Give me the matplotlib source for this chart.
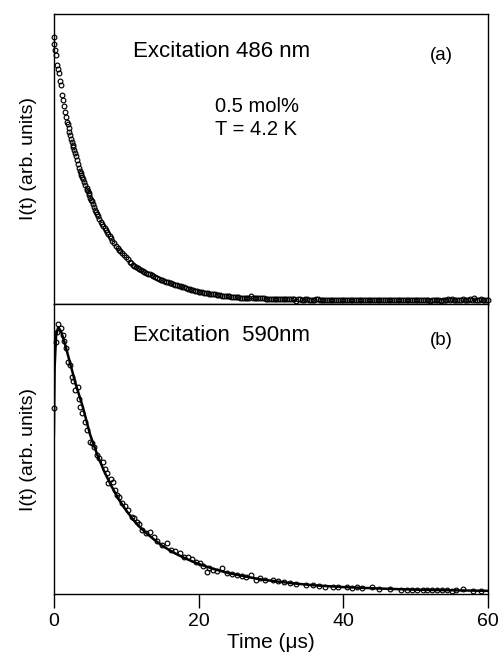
import matplotlib
matplotlib.use("Agg")
import matplotlib.pyplot as plt

plt.rcParams['font.family'] = ['Liberation Sans', 'DejaVu Sans']

# (a) excitation 486 nm: decay
t_a = [0.00, 0.04, 0.15, 0.28, 0.41, 0.53, 0.65, 0.83, 0.97, 1.06, 1.20, 1.35, 1.52, 1.64,
       1.76, 1.90, 2.03, 2.12, 2.21, 2.35, 2.49, 2.60, 2.70, 2.80, 2.90, 3.04, 3.18, 3.35,
       3.50, 3.60, 3.70, 3.80, 3.87, 4.03, 4.19, 4.35, 4.52, 4.61, 4.70, 4.79, 4.88, 5.05,
       5.15, 5.26, 5.42, 5.60, 5.72, 5.81, 5.95, 6.10, 6.30, 6.50, 6.65, 6.80, 7.00, 7.19,
       7.35, 7.50, 7.70, 7.88, 8.10, 8.30, 8.55, 8.81, 9.00, 9.20, 9.45, 9.72, 9.95, 10.20,
       10.45, 10.65, 10.90, 11.10, 11.35, 11.58, 11.80, 12.00, 12.25, 12.49, 12.75,
       13.00, 13.25, 13.50, 13.75, 14.00, 14.25, 14.50, 14.75, 15.00, 15.25, 15.50, 15.75,
       16.00, 16.25, 16.50, 16.75, 17.00, 17.25, 17.50, 17.75, 18.00, 18.25, 18.50, 18.75,
       19.00, 19.25, 19.50, 19.75, 20.00, 20.25, 20.50, 20.75, 21.00, 21.25, 21.50, 21.75,
       22.00, 22.25, 22.50, 22.75, 23.00, 23.25, 23.50, 23.75, 24.00, 24.25, 24.50, 24.75,
       25.00, 25.25, 25.50, 25.75, 26.00, 26.25, 26.50, 26.75, 27.00, 27.25, 27.50, 27.75,
       28.00, 28.25, 28.50, 28.75, 29.00, 29.25, 29.50, 29.75, 30.00, 30.25, 30.50, 30.75]
i_a = [0.922, 0.896, 0.875, 0.859, 0.824, 0.810, 0.798, 0.769, 0.755, 0.722, 0.702, 0.682,
       0.661, 0.643, 0.627, 0.619, 0.608, 0.594, 0.583, 0.570, 0.558, 0.549, 0.540, 0.530,
       0.522, 0.510, 0.497, 0.482, 0.468, 0.460, 0.452, 0.444, 0.439, 0.430, 0.422, 0.410,
       0.399, 0.393, 0.388, 0.382, 0.376, 0.366, 0.360, 0.355, 0.346, 0.335, 0.325, 0.318,
       0.310, 0.302, 0.293, 0.284, 0.277, 0.270, 0.262, 0.255, 0.248, 0.242, 0.234, 0.227,
       0.218, 0.210, 0.200, 0.192, 0.186, 0.181, 0.175, 0.169, 0.161, 0.154, 0.146, 0.140,
       0.136, 0.132, 0.127, 0.123, 0.120, 0.117, 0.114, 0.111, 0.107,
       0.104, 0.102, 0.099, 0.095, 0.092, 0.089, 0.087, 0.084, 0.081, 0.079, 0.077, 0.075,
       0.073, 0.071, 0.069, 0.066, 0.064, 0.062, 0.061, 0.058, 0.057, 0.055, 0.052, 0.050,
       0.048, 0.047, 0.046, 0.045, 0.043, 0.042, 0.040, 0.039, 0.038, 0.037, 0.036, 0.035,
       0.034, 0.033, 0.032, 0.031, 0.030, 0.029, 0.028, 0.027, 0.026, 0.026, 0.025, 0.024,
       0.024, 0.023, 0.023, 0.022, 0.022, 0.022, 0.021, 0.021, 0.021, 0.028, 0.020, 0.020,
       0.020, 0.019, 0.019, 0.019, 0.019, 0.018, 0.018, 0.018, 0.018, 0.017, 0.017, 0.017]

# (a) flat tail
t_a_tail = [31.00, 31.25, 31.50, 31.75, 32.00, 32.25, 32.50, 32.75, 33.00, 33.25, 33.50, 33.75,
            34.00, 34.25, 34.50, 34.75, 35.00, 35.25, 35.50, 35.75, 36.00, 36.25, 36.50, 36.75,
            37.00, 37.25, 37.50, 37.75, 38.00, 38.25, 38.50, 38.75, 39.00, 39.25, 39.50, 39.75,
            40.00, 40.25, 40.50, 40.75, 41.00, 41.25, 41.50, 41.75, 42.00, 42.25, 42.50, 42.75,
            43.00, 43.25, 43.50, 43.75, 44.00, 44.25, 44.50, 44.75, 45.00, 45.25, 45.50, 45.75,
            46.00, 46.25, 46.50, 46.75, 47.00, 47.25, 47.50, 47.75, 48.00, 48.25, 48.50, 48.75,
            49.00, 49.25, 49.50, 49.75, 50.00, 50.25, 50.50, 50.75, 51.00, 51.25, 51.50, 51.75,
            52.00, 52.25, 52.50, 52.75, 53.00, 53.25, 53.50, 53.75, 54.00, 54.25, 54.50, 54.75,
            55.00, 55.25, 55.50, 55.75, 56.00, 56.25, 56.50, 56.75, 57.00, 57.25, 57.50, 57.75,
            58.00, 58.25, 58.50, 58.75, 59.00, 59.25, 59.50, 59.75, 60.00]
i_a_tail = [0.017, 0.017, 0.017, 0.016, 0.016, 0.016, 0.016, 0.016, 0.016, 0.016, 0.010, 0.016,
            0.016, 0.015, 0.015, 0.016, 0.016, 0.015, 0.015, 0.015, 0.015, 0.016, 0.016, 0.015,
            0.015, 0.015, 0.015, 0.015, 0.015, 0.015, 0.014, 0.015, 0.015, 0.015, 0.015, 0.015,
            0.015, 0.014, 0.014, 0.015, 0.015, 0.015, 0.015, 0.015, 0.014, 0.014, 0.015, 0.015,
            0.015, 0.015, 0.014, 0.015, 0.015, 0.015, 0.015, 0.015, 0.014, 0.014, 0.015, 0.015,
            0.014, 0.014, 0.015, 0.015, 0.014, 0.014, 0.015, 0.015, 0.014, 0.014, 0.014, 0.015,
            0.015, 0.015, 0.014, 0.014, 0.014, 0.014, 0.015, 0.015, 0.014, 0.014, 0.014, 0.014,
            0.011, 0.014, 0.014, 0.014, 0.015, 0.015, 0.012, 0.014, 0.015, 0.015, 0.016, 0.015,
            0.018, 0.015, 0.014, 0.014, 0.013, 0.014, 0.016, 0.015, 0.014, 0.015, 0.017, 0.015,
            0.019, 0.015, 0.014, 0.015, 0.016, 0.015, 0.015, 0.015, 0.015]

# (b) excitation 590 nm: data points
t_b = [0.00, 0.23, 0.40, 0.60, 0.92, 1.20, 1.45, 1.66, 1.98, 2.20, 2.45, 2.70, 2.90, 3.27,
       3.45, 3.60, 3.95, 4.28, 4.60, 4.98, 5.25, 5.53, 5.90, 6.30, 6.82, 7.05, 7.28, 7.50,
       7.85, 8.20, 8.45, 8.67, 9.00, 9.36, 9.80, 10.27, 10.74, 11.10, 11.43, 11.80, 12.12,
       12.70, 13.27, 13.80, 14.30, 14.90, 15.60, 16.20, 16.80, 17.40, 18.00, 18.57, 19.10,
       19.70, 20.20, 20.60, 21.10, 21.50, 22.00, 22.60, 23.20, 23.90, 24.60, 25.30, 26.00,
       26.60, 27.30, 28.00, 28.50, 29.20, 30.30, 31.00, 31.80, 32.60, 33.50, 34.90, 35.80,
       36.60, 37.50, 38.60, 39.30, 40.50, 41.20, 41.90, 42.60, 43.90, 45.00, 46.50, 48.00,
       48.80, 49.50, 50.20, 51.00, 51.50, 52.20, 53.00, 53.60, 54.30, 55.00, 55.60, 56.60,
       57.90, 59.00]
i_b = [0.640, 0.870, 0.905, 0.931, 0.916, 0.893, 0.872, 0.847, 0.801, 0.790, 0.749, 0.735,
       0.703, 0.714, 0.672, 0.646, 0.625, 0.594, 0.565, 0.525, 0.520, 0.508, 0.479, 0.470,
       0.456, 0.430, 0.416, 0.382, 0.395, 0.387, 0.360, 0.341, 0.335, 0.313, 0.305, 0.290,
       0.267, 0.262, 0.249, 0.240, 0.221, 0.212, 0.215, 0.195, 0.182, 0.169, 0.175, 0.152,
       0.150, 0.140, 0.128, 0.129, 0.120, 0.111, 0.106, 0.098, 0.077, 0.090, 0.083, 0.081,
       0.089, 0.071, 0.070, 0.066, 0.062, 0.060, 0.066, 0.048, 0.054, 0.050, 0.048, 0.044,
       0.042, 0.037, 0.035, 0.031, 0.030, 0.028, 0.026, 0.023, 0.024, 0.023, 0.022, 0.025,
       0.020, 0.023, 0.018, 0.017, 0.015, 0.014, 0.015, 0.014, 0.013, 0.014, 0.013, 0.014,
       0.013, 0.014, 0.012, 0.013, 0.016, 0.012, 0.011]

# (b) fitted curve
t_fit = [0.0, 0.1, 0.3, 0.6, 1.0, 1.5, 2.2, 3.0, 4.0, 5.0, 6.0, 7.0, 8.0, 9.0, 10.0, 11.0,
         12.0, 13.0, 14.0, 15.0, 16.0, 17.0, 18.0, 19.0, 20.0, 22.0, 24.0, 26.0, 28.0, 30.0,
         33.0, 36.0, 40.0, 45.0, 50.0, 55.0, 60.0]
i_fit = [0.55, 0.78, 0.89, 0.92, 0.905, 0.865, 0.80, 0.725, 0.645, 0.55, 0.48, 0.42, 0.37,
         0.325, 0.288, 0.255, 0.228, 0.205, 0.185, 0.166, 0.151, 0.137, 0.125, 0.114, 0.104,
         0.087, 0.073, 0.063, 0.053, 0.046, 0.037, 0.030, 0.024, 0.019, 0.015, 0.013, 0.011]

xticks = [0, 20, 40, 60]

fig = plt.figure(figsize=(4.99, 6.63), dpi=100)
ax1 = fig.add_axes([0.108, 0.5415, 0.870, 0.4375])
ax2 = fig.add_axes([0.108, 0.104, 0.870, 0.4375])

mk = dict(marker='o', ms=3.4, mfc='none', mec='black', mew=0.85, ls='none', clip_on=False)

ax1.plot(t_a, i_a, **mk)
ax1.plot(t_a_tail, i_a_tail, **mk)

ax2.plot(t_fit, i_fit, color='black', lw=1.8)
ax2.plot(t_b, i_b, **mk)

for ax in (ax1, ax2):
    ax.set_xlim(0, 60)
    ax.set_ylim(0, 1)
    ax.set_yticks([])
    ax.set_ylabel('I(t) (arb. units)', fontsize=14, labelpad=12)
    for s in ax.spines.values():
        s.set_linewidth(1.0)

ax1.set_xticks([])
ax2.set_xticks(xticks)
ax2.tick_params(axis='x', direction='out', length=10, width=1.0, labelsize=14, pad=4)
ax2.set_xlabel('Time (\u03bcs)', fontsize=15, labelpad=2)

ax1.text(0.182, 0.87, 'Excitation 486 nm', transform=ax1.transAxes, fontsize=16, va='center')
ax1.text(0.866, 0.855, '(a)', transform=ax1.transAxes, fontsize=13.5, va='center')
ax1.text(0.37, 0.68, '0.5 mol%', transform=ax1.transAxes, fontsize=14.5, va='center')
ax1.text(0.37, 0.60, 'T = 4.2 K', transform=ax1.transAxes, fontsize=14.5, va='center')

ax2.text(0.182, 0.89, 'Excitation  590nm', transform=ax2.transAxes, fontsize=16, va='center')
ax2.text(0.866, 0.875, '(b)', transform=ax2.transAxes, fontsize=13.5, va='center')

fig.savefig('out.png', dpi=100)
